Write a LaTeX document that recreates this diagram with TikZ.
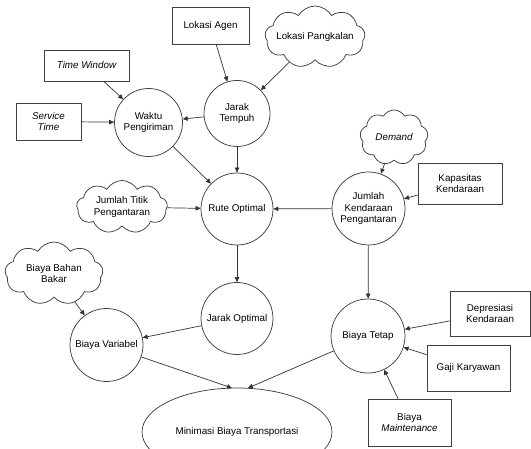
\documentclass[tikz,border=0pt]{standalone}
\usepackage{fontspec}
\setmainfont{Liberation Sans}
\usetikzlibrary{shapes.symbols,shapes.geometric,arrows.meta}
\begin{document}
\begin{tikzpicture}[x=1pt,y=-1pt,
  every node/.style={font=\fontsize{9.8}{11.5}\selectfont, align=center, draw=black!75, line width=0.75pt, inner sep=1pt},
  circ/.style={circle, minimum size=#1},
  box/.style={rectangle, minimum width=#1},
  cld/.style={cloud, cloud puffs=9, cloud puff arc=120, cloud ignores aspect, inner sep=0pt},
  txt/.style={draw=none},
  arr/.style={-{Triangle[length=5pt,width=4.5pt]}, line width=0.7pt, draw=black!80}]
\useasboundingbox[fill=white] (0,0) rectangle (531,449);
% nodes
\node[box=77, minimum height=37] (agen) at (210.5,25.5) {Lokasi Agen};
\node[cld, minimum width=100, minimum height=62] (pangkalan) at (315,37) {};
\node[txt] at (pangkalan) {Lokasi Pangkalan};
\node[box=85, minimum height=31] (tw) at (86.5,65.5) {\itshape Time Window};
\node[box=65, minimum height=37] (st) at (48.5,121.5) {\itshape Service\\\itshape Time};
\node[circ=68] (waktu) at (148.5,122.5) {Waktu\\Pengiriman};
\node[circ=66] (jarak) at (237,113.5) {Jarak\\Tempuh};
\node[circ=72] (rute) at (237,209) {Rute Optimal};
\node[cld, minimum width=91, minimum height=53] (titik) at (122,207) {};
\node[txt] at (titik) {Jumlah Titik\\Pengantaran};
\node[circ=72] (jopt) at (237,318.5) {Jarak Optimal};
\node[cld, minimum width=98, minimum height=63] (bbm) at (54,273.5) {};
\node[txt] at (bbm) {Biaya Bahan\\Bakar};
\node[circ=73] (bvar) at (106.5,345) {Biaya Variabel};
\node[ellipse, minimum width=190, minimum height=88] (mini) at (237,432) {Minimasi Biaya Transportasi};
\node[cld, minimum width=68, minimum height=55] (demand) at (394,137.5) {};
\node[txt] at (demand) {\itshape Demand};
\node[box=84, minimum height=41] (kap) at (460,183.5) {Kapasitas\\Kendaraan};
\node[circ=73] (jkend) at (368.5,208.5) {Jumlah\\Kendaraan\\Pengantaran};
\node[circ=74] (btetap) at (368,336) {Biaya Tetap};
\node[box=80, minimum height=45] (dep) at (490,313.5) {Depresiasi\\Kendaraan};
\node[box=83, minimum height=46] (gaji) at (468.5,368) {Gaji Karyawan};
\node[box=83, minimum height=47] (maint) at (409.5,422.5) {Biaya\\\itshape Maintenance};
\coordinate (m1) at (232,388);
\coordinate (m2) at (248,388);
% edges
\draw[arr] (agen) -- (jarak);
\draw[arr] (pangkalan) -- (jarak);
\draw[arr] (tw) -- (waktu);
\draw[arr] (st) -- (waktu);
\draw[arr] (jarak) -- (waktu);
\draw[arr] (jarak) -- (rute);
\draw[arr] (waktu) -- (rute);
\draw[arr] (titik) -- (rute);
\draw[arr] (jkend) -- (rute);
\draw[arr] (demand) -- (jkend);
\draw[arr] (kap) -- (jkend);
\draw[arr] (rute) -- (jopt);
\draw[arr] (jopt) -- (bvar);
\draw[arr] (bbm) -- (bvar);
\draw[arr] (jkend) -- (btetap);
\draw[arr] (dep) -- (btetap);
\draw[arr] (gaji) -- (btetap);
\draw[arr] (maint) -- (btetap);
\draw[arr] (bvar) -- (m1);
\draw[arr] (btetap) -- (m2);
\end{tikzpicture}
\end{document}
